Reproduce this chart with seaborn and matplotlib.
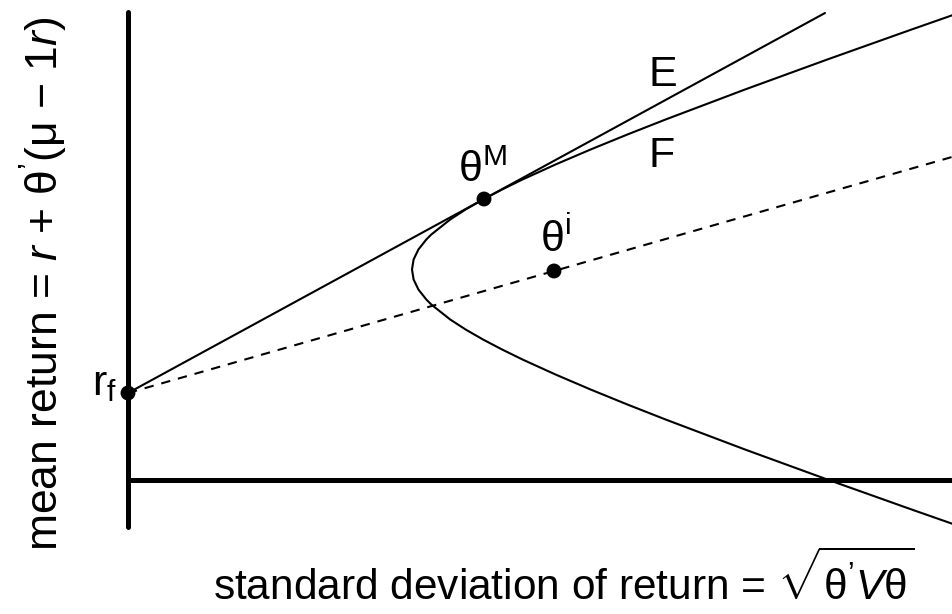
"""
Mean-variance frontier with the capital market line (tangent at the market
portfolio) and a dashed line through an individual portfolio.
Saves out.png (953x614).
"""
import matplotlib
matplotlib.use("Agg")
import matplotlib.pyplot as plt
import pandas as pd
import seaborn as sns

# ── data (sigma = std deviation, mu = mean return; arbitrary units) ─────────

# frontier F from bottom to top
frontier_mu = [-0.6, -0.3, 0.0, 0.3, 0.6, 0.75, 0.9, 1.05, 1.2, 1.3, 1.4, 1.5,
               1.6, 1.75, 1.8, 1.9, 2.0, 2.1, 2.2, 2.3, 2.4, 2.45, 2.6, 2.7,
               2.8, 2.9, 3.0, 3.15, 3.3, 3.45, 3.6, 3.9, 4.2, 4.5, 4.8]
frontier_sigma = [8.693, 7.836, 6.993, 6.170, 5.376, 4.994, 4.626, 4.275,
                  3.945, 3.741, 3.550, 3.376, 3.222, 3.033, 2.983, 2.904,
                  2.856, 2.840, 2.856, 2.904, 2.983, 3.033, 3.222, 3.376,
                  3.550, 3.741, 3.945, 4.275, 4.626, 4.994, 5.376, 6.170,
                  6.993, 7.836, 8.693]

# risk-free rate, market portfolio, individual portfolio
rf_sigma, rf_mu = 0.0, 0.865
market_sigma, market_mu = 3.56, 2.805
indiv_sigma, indiv_mu = 4.26, 2.085

# line E: from rf through the tangency point
line_e_sigma = [rf_sigma, market_sigma, 6.97]
line_e_mu = [rf_mu, market_mu, 4.665]

# dashed line: from rf through theta^i
dash_sigma = [rf_sigma, indiv_sigma, 8.4]
dash_mu = [rf_mu, indiv_mu, 3.271]

points = pd.DataFrame({
    "sigma": [rf_sigma, market_sigma, indiv_sigma],
    "mu": [rf_mu, market_mu, indiv_mu],
})

# ── style ───────────────────────────────────────────────────────────────────

sns.set_theme(style="white")
plt.rcParams["font.family"] = ["Liberation Sans", "DejaVu Sans"]
plt.rcParams["mathtext.fontset"] = "custom"
plt.rcParams["mathtext.rm"] = "Liberation Sans"
plt.rcParams["mathtext.it"] = "Liberation Sans:italic"
plt.rcParams["text.color"] = "black"

fig = plt.figure(figsize=(9.53, 6.14), dpi=100)
ax = fig.add_axes([0, 0, 1, 1])
ax.set_xlim(-1.28, 8.25)
ax.set_ylim(-1.345, 4.795)

LW = 1.5
sns.lineplot(x=frontier_sigma, y=frontier_mu, sort=False, estimator=None,
             color="black", lw=LW, ax=ax)
sns.lineplot(x=line_e_sigma, y=line_e_mu, sort=False, estimator=None,
             color="black", lw=LW, ax=ax)
sns.lineplot(x=dash_sigma, y=dash_mu, sort=False, estimator=None,
             color="black", lw=LW, linestyle=(0, (4.5, 3.8)), ax=ax)
sns.scatterplot(data=points, x="sigma", y="mu", color="black", s=115,
                edgecolor="none", zorder=5, ax=ax)

# axes drawn as thick lines through the origin
for side in ["top", "right"]:
    ax.spines[side].set_visible(False)
ax.spines["left"].set_position(("data", 0))
ax.spines["bottom"].set_position(("data", 0))
ax.spines["left"].set_bounds(-0.475, 4.675)
ax.spines["bottom"].set_bounds(0.0, 8.25)
for side in ["left", "bottom"]:
    ax.spines[side].set_linewidth(3.6)
    ax.spines[side].set_color("black")
ax.spines["left"].set_capstyle("round")
ax.set_xticks([])
ax.set_yticks([])
ax.set_xlabel("")
ax.set_ylabel("")

# labels
FS = 31
ax.text(5.21, 3.935, "E", fontsize=FS, ha="left", va="baseline")
ax.text(5.20, 3.125, "F", fontsize=FS, ha="left", va="baseline")
ax.text(3.30, 2.975, r"θ$^{\mathrm{M}}$", fontsize=FS, ha="left", va="baseline")
ax.text(4.12, 2.275, r"θ$^{\mathrm{i}}$", fontsize=FS, ha="left", va="baseline")
ax.text(-0.36, 0.845, r"r$_{\mathrm{f}}$", fontsize=FS, ha="left", va="baseline")

fig.text(564 / 953, 1 - 600 / 614,
         r"standard deviation of return = $\sqrt{\mathrm{θ}^{\mathrm{’}}\mathit{V}\mathrm{θ}}$",
         fontsize=30.5, ha="center", va="baseline")
fig.text(44 / 953, 1 - 284 / 614,
         r"mean return = $\mathit{r}$ + θ$^{\mathrm{’}}$(μ − 1$\mathit{r}$)",
         fontsize=32, ha="center", va="center", rotation=90)

fig.savefig("out.png", dpi=100)
